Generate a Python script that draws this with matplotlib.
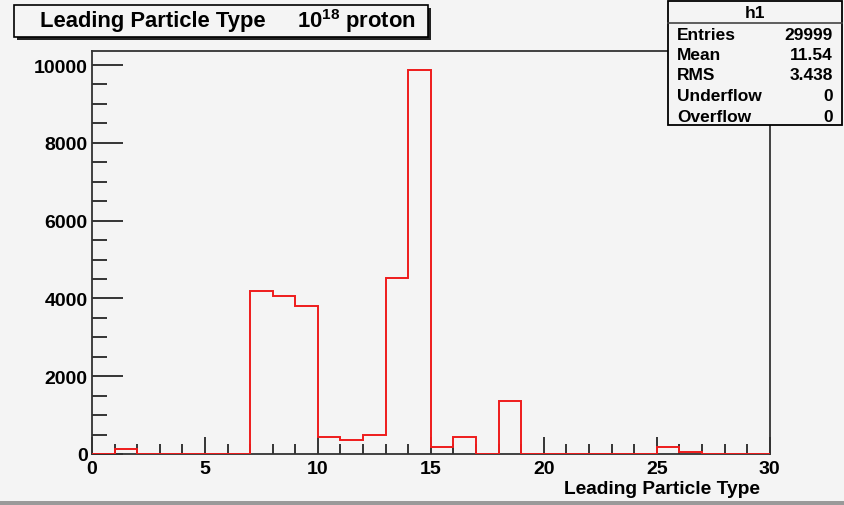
import numpy as np
import matplotlib
matplotlib.use("Agg")
from matplotlib import pyplot as plt
from matplotlib.patches import Rectangle

# bin contents for h1, unit-width bins from 0 to 30
counts = [0, 130, 0, 0, 0, 0, 0, 4190, 4060, 3800,
          440, 370, 490, 4520, 9870, 190, 440, 0, 1360, 0,
          0, 0, 0, 0, 0, 190, 60, 0, 0, 0]
edges = list(range(0, 31))

stat_names = ["Entries", "Mean", "RMS", "Underflow", "Overflow"]
stat_values = ["29999", "11.54", "3.438", "0", "0"]

title_main = "Leading Particle Type"
title_energy = r"$\mathbf{10^{18}}$ proton"
x_label = "Leading Particle Type"

plt.rcParams['font.family'] = ['Liberation Sans', 'DejaVu Sans']
plt.rcParams['font.weight'] = 'bold'
plt.rcParams['mathtext.fontset'] = 'custom'
plt.rcParams['mathtext.bf'] = 'Liberation Sans:bold'
plt.rcParams['mathtext.rm'] = 'Liberation Sans:bold'

bg = "#f4f4f4"
fig = plt.figure(figsize=(8.44, 5.06), dpi=100, facecolor=bg)
ax = fig.add_axes([0.109, 0.1008, 0.803, 0.7964], facecolor=bg)

ax.stairs(counts, edges, color="#ee1c1c", lw=1.4, baseline=0, zorder=3)
ax.set_xlim(0, 30)
ax.set_ylim(0, 10360)

for s in ax.spines.values():
    s.set_color("#333333")
    s.set_linewidth(1.3)

ax.set_xticks(range(0, 31, 5))
ax.set_xticks(range(0, 31), minor=True)
ax.set_yticks(range(0, 10001, 2000))
ax.set_yticks(range(0, 10001, 500), minor=True)
ax.tick_params(axis='x', which='major', direction='in', length=12, width=1.1,
               labelsize=14, pad=4, top=False)
ax.tick_params(axis='x', which='minor', direction='in', length=7, width=1.1, top=False)
ax.tick_params(axis='y', which='major', direction='in', length=22, width=1.1,
               labelsize=14, pad=3, right=False)
ax.tick_params(axis='y', which='minor', direction='in', length=11, width=1.1, right=False)
for lab in ax.get_xticklabels() + ax.get_yticklabels():
    lab.set_fontweight('bold')

fig.text(760 / 844, 1 - 490 / 506, x_label, ha='right', va='center',
         fontsize=13.8, fontweight='bold')

# title box with shadow
fig.patches.append(Rectangle((17 / 844, 1 - 41 / 506), 414 / 844, 32 / 506,
                             transform=fig.transFigure, facecolor="#222222",
                             edgecolor="none", zorder=5))
fig.patches.append(Rectangle((14 / 844, 1 - 38 / 506), 414 / 844, 32 / 506,
                             transform=fig.transFigure, facecolor=bg,
                             edgecolor="black", lw=1.2, zorder=6))
fig.text(40 / 844, 1 - 21 / 506, title_main, ha='left', va='center',
         fontsize=15.8, fontweight='bold', zorder=7)
fig.text(297 / 844, 1 - 21 / 506, title_energy, ha='left', va='center',
         fontsize=15.8, fontweight='bold', zorder=7)

# statistics box
bx0, by0, bw, bh = 668, 2, 174, 124
fig.patches.append(Rectangle((bx0 / 844, 1 - (by0 + bh) / 506), bw / 844, bh / 506,
                             transform=fig.transFigure, facecolor=bg,
                             edgecolor="black", lw=1.3, zorder=6))
fig.lines.append(plt.Line2D([bx0 / 844, (bx0 + bw) / 844],
                            [1 - 24 / 506, 1 - 24 / 506],
                            transform=fig.transFigure, color="#444444", lw=1.2, zorder=7))
fig.text((bx0 + bw / 2) / 844, 1 - 13 / 506, "h1", ha='center', va='center',
         fontsize=12.5, fontweight='bold', zorder=7)
for i, (name, val) in enumerate(zip(stat_names, stat_values)):
    yy = 1 - (35 + i * 20.5) / 506
    fig.text(677 / 844, yy, name, ha='left', va='center',
             fontsize=12.5, fontweight='bold', zorder=7)
    fig.text(833 / 844, yy, val, ha='right', va='center',
             fontsize=12.5, fontweight='bold', zorder=7)

# darker strip along the bottom edge of the canvas
fig.patches.append(Rectangle((0, 0), 1, 4 / 506, transform=fig.transFigure,
                             facecolor="#9a9a9a", edgecolor="none", zorder=1))

fig.savefig("out.png", dpi=100, facecolor=bg)
